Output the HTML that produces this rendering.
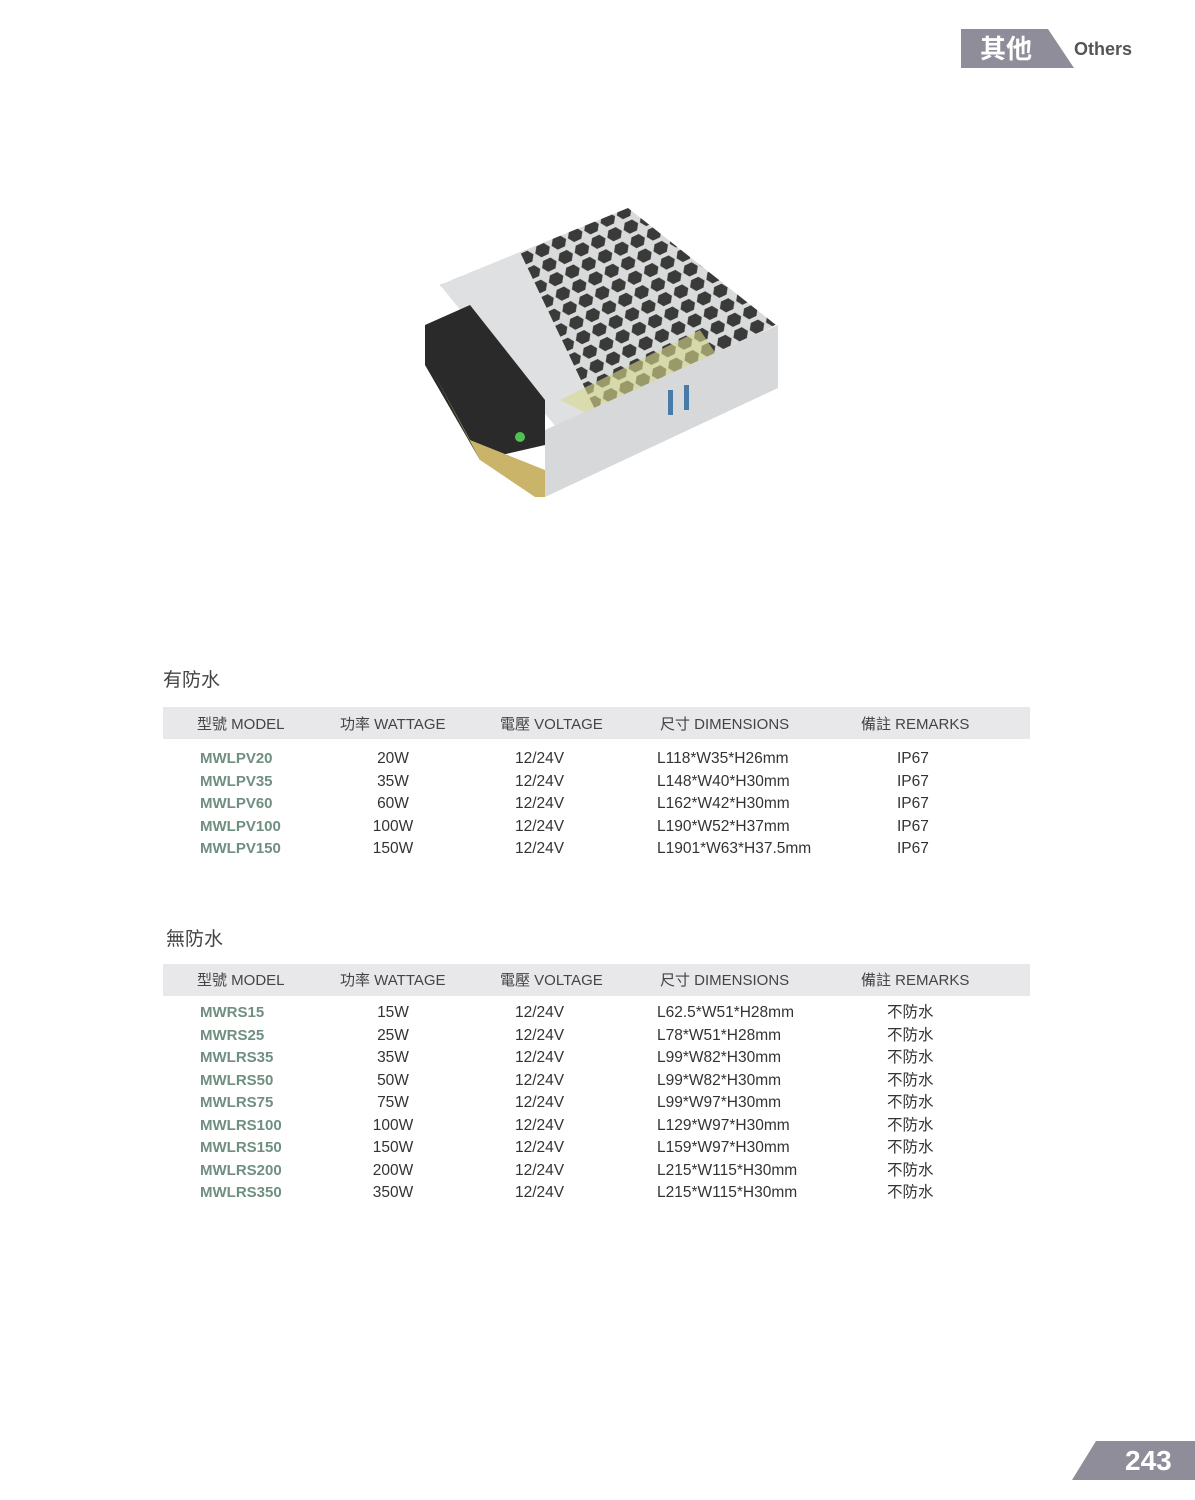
<!DOCTYPE html>
<html><head><meta charset="utf-8"><style>
body{margin:0;background:#fff;font-family:"Liberation Sans","Noto Sans CJK TC",sans-serif;}
.page{position:relative;width:1195px;height:1500px;overflow:hidden;background:#fff;}
.abs{position:absolute;white-space:nowrap;}
.hdr{position:absolute;left:163px;width:867px;height:32px;background:#e8e8ea;}
.ht{position:absolute;font-size:15px;color:#444;line-height:32px;}
.r{position:absolute;font-size:15.5px;color:#333;line-height:22px;}
.m{color:#6f8f80;font-weight:bold;font-size:15px;}
.sec{position:absolute;font-size:19px;color:#444;}
</style></head><body><div class="page">
<svg class="abs" style="left:0;top:0" width="1195" height="1500">
<polygon points="961,29 1048,29 1074,68 961,68" fill="#8e8d99"/>
<polygon points="1096,1441 1195,1441 1195,1480 1072,1480" fill="#8e8d99"/>
<defs><pattern id="hx" width="18" height="16" patternUnits="userSpaceOnUse" patternTransform="rotate(-25)">
<rect width="18" height="16" fill="#d8dadc"/>
<polygon points="4,2 12,2 16,8 12,14 4,14 0,8" fill="#3a3a38"/></pattern></defs>
<polygon points="440,285 628,208 776,325 570,430" fill="url(#hx)"/>
<polygon points="440,285 520,252 600,420 560,432" fill="#dfe0e2"/>
<polygon points="560,400 700,330 720,360 600,420" fill="#d9d98a" opacity="0.6"/>
<polygon points="545,430 778,325 778,388 545,497" fill="#d6d8da"/>
<polygon points="425,325 470,305 545,400 545,445 480,460 425,365" fill="#2a2a2a"/>
<polygon points="432,370 480,460 535,497 545,497 545,470 470,440" fill="#c9b46a"/>
<rect x="668" y="390" width="5" height="25" fill="#4a7aa8"/><rect x="684" y="385" width="5" height="25" fill="#4a7aa8"/>
<circle cx="520" cy="437" r="5" fill="#4fc24f"/>
</svg>
<div class="abs" style="left:980px;top:30px;font-size:26px;font-weight:bold;color:#fff;line-height:38px;">其他</div>
<div class="abs" style="left:1074px;top:39px;font-size:18px;font-weight:bold;color:#555;">Others</div>
<div class="abs" style="left:1125px;top:1445px;font-size:28px;font-weight:bold;color:#fff;">243</div>

<div class="sec" style="left:163px;top:665px;">有防水</div>
<div class="hdr" style="top:707px;"></div>
<div class="ht" style="left:197px;top:709px;">型號 MODEL</div>
<div class="ht" style="left:340px;top:709px;">功率 WATTAGE</div>
<div class="ht" style="left:500px;top:709px;">電壓 VOLTAGE</div>
<div class="ht" style="left:660px;top:709px;">尺寸 DIMENSIONS</div>
<div class="ht" style="left:861px;top:709px;">備註 REMARKS</div>

<div class="sec" style="left:166px;top:924px;">無防水</div>
<div class="hdr" style="top:964px;"></div>
<div class="ht" style="left:197px;top:965px;">型號 MODEL</div>
<div class="ht" style="left:340px;top:965px;">功率 WATTAGE</div>
<div class="ht" style="left:500px;top:965px;">電壓 VOLTAGE</div>
<div class="ht" style="left:660px;top:965px;">尺寸 DIMENSIONS</div>
<div class="ht" style="left:861px;top:965px;">備註 REMARKS</div>

<script>
function rows(top,data,rx){var h='';data.forEach(function(d,i){var y=top+i*22.5;
h+='<div class="r m" style="left:200px;top:'+y+'px">'+d[0]+'</div>'+
'<div class="r" style="left:343px;width:100px;text-align:center;top:'+y+'px">'+d[1]+'</div>'+
'<div class="r" style="left:515px;top:'+y+'px">12/24V</div>'+
'<div class="r" style="left:657px;top:'+y+'px">'+d[2]+'</div>'+
'<div class="r" style="left:'+rx+'px;top:'+y+'px">'+d[3]+'</div>';});
document.querySelector('.page').insertAdjacentHTML('beforeend',h);}
rows(748,[["MWLPV20","20W","L118*W35*H26mm","IP67"],["MWLPV35","35W","L148*W40*H30mm","IP67"],["MWLPV60","60W","L162*W42*H30mm","IP67"],["MWLPV100","100W","L190*W52*H37mm","IP67"],["MWLPV150","150W","L1901*W63*H37.5mm","IP67"]],897);
rows(1002,[["MWRS15","15W","L62.5*W51*H28mm","不防水"],["MWRS25","25W","L78*W51*H28mm","不防水"],["MWLRS35","35W","L99*W82*H30mm","不防水"],["MWLRS50","50W","L99*W82*H30mm","不防水"],["MWLRS75","75W","L99*W97*H30mm","不防水"],["MWLRS100","100W","L129*W97*H30mm","不防水"],["MWLRS150","150W","L159*W97*H30mm","不防水"],["MWLRS200","200W","L215*W115*H30mm","不防水"],["MWLRS350","350W","L215*W115*H30mm","不防水"]],887);
</script>
</div></body></html>
